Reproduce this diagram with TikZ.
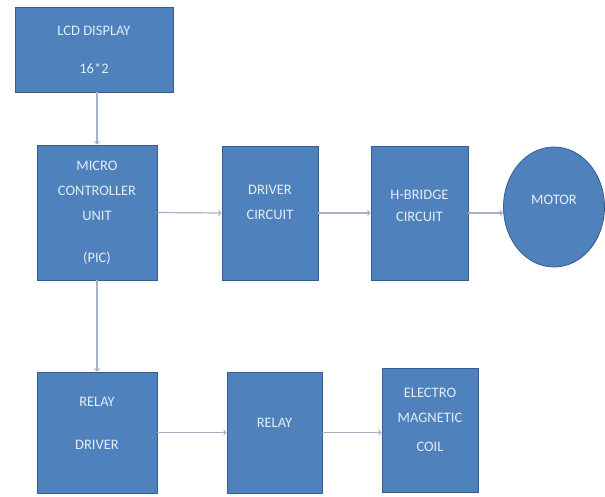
\documentclass[tikz,border=0pt]{standalone}
\usepackage{fontspec}
\setmainfont{Carlito}
\usepackage{tikz}
\usetikzlibrary{arrows}
\usetikzlibrary{shapes.geometric}
\definecolor{boxblue}{HTML}{4F81BD}
\definecolor{boxedge}{HTML}{385D8A}
\definecolor{arrowgray}{HTML}{A3B2C8}
\definecolor{textwhite}{HTML}{E4ECF6}
\tikzstyle{block} = [draw=boxedge, fill=boxblue, line width=0.8pt, text=textwhite, align=center, inner sep=0pt, font=\fontsize{14.5}{25}\selectfont]
\tikzstyle{raised} = [text depth=18pt]
\tikzstyle{line} = [draw=arrowgray, ->, line width=1.2pt]

\begin{document}
\begin{tikzpicture}[x=1pt, y=-1pt]
	\useasboundingbox (0,0) rectangle (605,497);
	% -------------- Top row --------------
	\node[block, minimum width=158pt, minimum height=85pt] (lcd)  at (94,49.5)  {LCD DISPLAY\\[13pt]16*2};
	% -------------- Middle row --------------
	\node[block, minimum width=120pt, minimum height=135pt] (mcu) at (97,212.5) {MICRO\\CONTROLLER\\UNIT\\[17pt](PIC)};
	\node[block, raised, text depth=21pt, minimum width=96pt, minimum height=134pt] (drv) at (270,213) {DRIVER\\CIRCUIT};
	\node[block, raised, text depth=14pt, minimum width=97pt, minimum height=134pt] (hb)  at (419.5,213) {H-BRIDGE\\[-3pt]CIRCUIT};
	\node[block, ellipse, raised, text depth=14pt, minimum width=101pt, minimum height=120pt] (motor) at (554,207) {MOTOR};
	% -------------- Bottom row --------------
	\node[block, raised, minimum width=120pt, minimum height=121pt] (rdrv) at (97,432.5) {RELAY\\[18pt]DRIVER};
	\node[block, raised, text depth=19pt, minimum width=95pt, minimum height=121pt] (rly) at (274.5,432.5) {RELAY};
	\node[block, raised, text depth=20pt, minimum width=96pt, minimum height=124pt] (coil) at (430,430) {ELECTRO\\MAGNETIC\\[4pt]COIL};
	% -------------- Connections --------------
	\path[line] (lcd.south -| mcu.north) -- (mcu.north);
	\path[line] (mcu.east) -- (drv.west);
	\path[line] (drv.east) -- (hb.west);
	\path[line] (hb.east) -- (hb.east -| motor.west);
	\path[line] (mcu.south) -- (rdrv.north);
	\path[line] (rdrv.east) -- (rly.west);
	\path[line] (rly.east) -- (rly.east -| coil.west);
\end{tikzpicture}
\end{document}
